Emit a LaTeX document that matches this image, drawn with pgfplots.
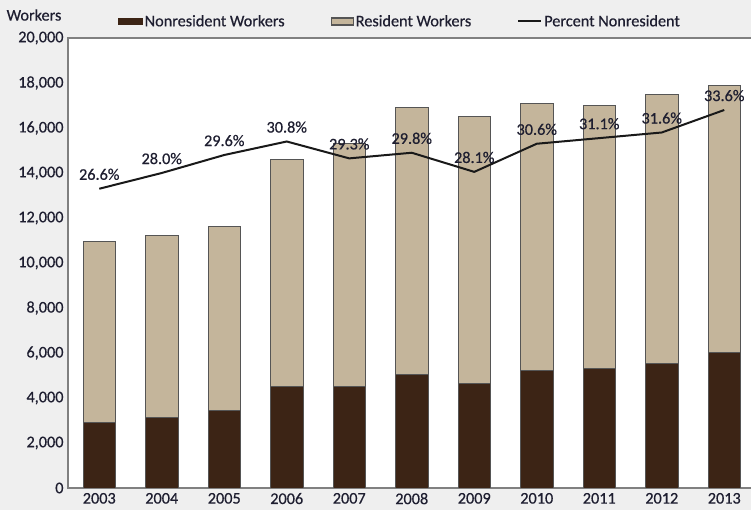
\documentclass[border=0pt]{standalone}
\usepackage{fontspec}
\setmainfont{Carlito}[FakeBold=0.5]
\usepackage{pgfplots}
\usepackage{pgfplotstable}
\pgfplotsset{compat=1.18}
\definecolor{bg}{HTML}{EFEFEF}
\definecolor{nonres}{HTML}{3C2415}
\definecolor{res}{HTML}{C4B59B}
\definecolor{frame}{HTML}{808080}
\definecolor{barline}{HTML}{555555}
\definecolor{txt}{HTML}{1E1E30}
\newcommand{\fs}{\fontsize{16.3}{19}\selectfont}
\pgfplotsset{
  nonreslegend/.style={legend image code/.code={\draw[##1, draw=none] (0bp,-3.5bp) rectangle (25bp,3.5bp);}},
  reslegend/.style={legend image code/.code={\draw[##1, line width=1.2bp] (0bp,-3.5bp) rectangle (22bp,3.5bp);}},
  linelegend/.style={legend image code/.code={\draw[##1] (0bp,0bp) -- (23bp,0bp);}},
}
\pgfplotstableread{
x total nonres resident pct
0 10950 2910 8040 26.6
1 11240 3150 8090 28.0
2 11600 3430 8170 29.6
3 14580 4490 10090 30.8
4 15330 4500 10830 29.3
5 16930 5040 11890 29.8
6 16490 4630 11860 28.1
7 17070 5220 11850 30.6
8 17020 5290 11730 31.1
9 17470 5520 11950 31.6
10 17910 6020 11890 33.6
}\datatable
\begin{document}
\begin{tikzpicture}
\fill[bg] (0bp,0bp) rectangle (751bp,510bp);
\clip (0bp,0bp) rectangle (751bp,510bp);
\node[font=\fs, text=txt] at (34bp,495bp) {Workers};
\begin{axis}[
  at={(68bp,22bp)}, anchor=south west,
  scale only axis, width=693.75bp, height=450bp,
  xmin=-0.5, xmax=10.6, ymin=0, ymax=20000,
  ybar stacked, bar width=0.52,
  axis background/.style={fill=white},
  axis line style={frame, line width=2bp},
  xtick={0,...,10},
  xticklabels={2003,2004,2005,2006,2007,2008,2009,2010,2011,2012,2013},
  ytick={0,2000,...,20000},
  major tick length=0,
  scaled y ticks=false,
  /pgf/number format/1000 sep={,},
  /pgf/number format/assume math mode=true,
  tick label style={font=\fs, text=txt},
  xticklabel style={yshift=-1.5bp},
  yticklabel style={xshift=-1bp},
  legend columns=3,
  legend style={at={(axis description cs:0.067,1)}, anchor=south west, yshift=6bp,
    draw=none, fill=none, font=\fs, text=txt,
    /tikz/every even column/.append style={column sep=44bp}},
]
\addplot[fill=nonres, draw=barline, line width=1bp, nonreslegend]
  table[x=x, y=nonres] {\datatable};
\addlegendentry{Nonresident Workers}
\addplot[fill=res, draw=barline, line width=1bp, reslegend]
  table[x=x, y=resident] {\datatable};
\addlegendentry{Resident Workers}
\addlegendimage{black!90, line width=2bp, linelegend}
\addlegendentry{Percent Nonresident}
\end{axis}
\begin{axis}[
  at={(68bp,22bp)}, anchor=south west,
  scale only axis, width=693.75bp, height=450bp,
  xmin=-0.5, xmax=10.6, ymin=0, ymax=40,
  hide axis,
]
\addplot[black!90, line width=2bp, mark=none,
  nodes near coords, point meta=explicit symbolic,
  every node near coord/.append style={font=\fs, text=txt, yshift=4.5bp}]
  coordinates {(0,26.6)[26.6\%] (1,28.0)[28.0\%] (2,29.6)[29.6\%] (3,30.8)[30.8\%]
   (4,29.3)[29.3\%] (5,29.8)[29.8\%] (6,28.1)[28.1\%] (7,30.6)[30.6\%]
   (8,31.1)[31.1\%] (9,31.6)[31.6\%] (10,33.6)[33.6\%]};
\end{axis}
\end{tikzpicture}
\end{document}
